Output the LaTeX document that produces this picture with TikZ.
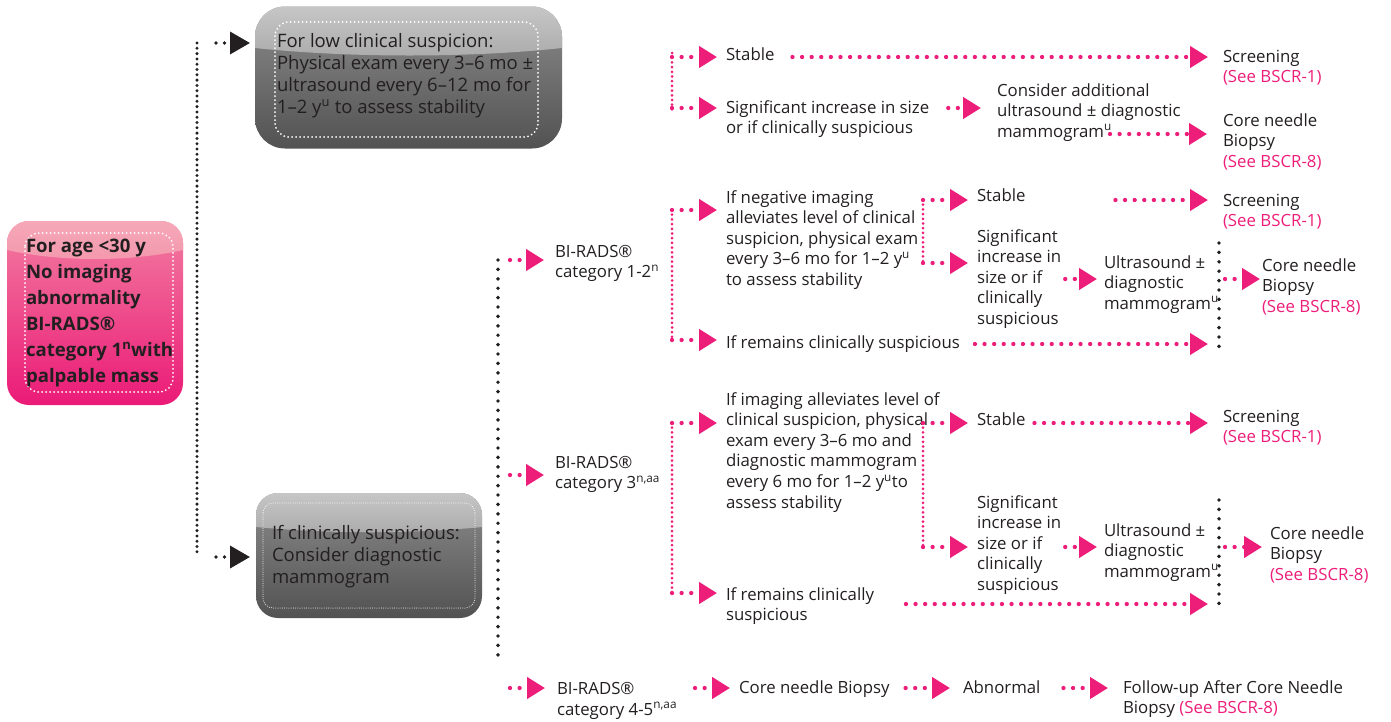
\documentclass[tikz,border=0pt]{standalone}
\usepackage{fontspec}
\setmainfont{Open Sans}
\usetikzlibrary{arrows.meta}

\definecolor{brand}{HTML}{EC1E79}
\definecolor{ink}{HTML}{231F20}
\definecolor{pinkgloss}{HTML}{F5A8B8}
\definecolor{pinkglossb}{HTML}{F497AD}
\definecolor{pinktop}{HTML}{F27DA0}
\definecolor{pinkbot}{HTML}{EB1A77}
\definecolor{graygloss}{HTML}{C6C6C6}
\definecolor{grayglossb}{HTML}{ABABAB}
\definecolor{graytop}{HTML}{8C8C8C}
\definecolor{graybot}{HTML}{525252}

% Multi-line labels are placed by the baseline of their last line.
\tikzset{
  lbl/.style={anchor=base west, inner sep=0pt, outer sep=0pt, align=left, text=ink,
    font=\fontsize{16.8}{20.6}\selectfont},
  boxlbl/.style={lbl, font=\fontsize{18.5}{22}\selectfont},
  agelbl/.style={lbl, font=\bfseries\fontsize{18.6}{26}\selectfont},
  pinkline/.style={draw=brand, line width=4.3pt, line cap=round, dash pattern=on 0pt off 9.6pt},
  pinkarrow/.style={pinkline, -{Triangle[length=18pt,width=21pt]}},
  pinkrail/.style={draw=brand, line width=3pt, line cap=round, dash pattern=on 0pt off 4.7pt},
  blackrail/.style={draw=ink, line width=3.9pt, line cap=round, dash pattern=on 0pt off 9.4pt},
  denserail/.style={draw=ink, line width=3.3pt, line cap=round, dash pattern=on 0pt off 5.3pt},
  blackarrow/.style={draw=ink, line width=3.6pt, line cap=round, dash pattern=on 0pt off 8.5pt,
    -{Triangle[length=20pt,width=22pt]}},
  whitedots/.style={draw=white, line width=2pt, line cap=round, dash pattern=on 0pt off 4pt},
  finedots/.style={draw=white, line width=1pt, line cap=round, dash pattern=on 0pt off 2.2pt},
  glossbox/.style={inner sep=0pt, outer sep=0pt, draw=none},
}
\newcommand{\seeref}[1]{\textcolor{brand}{#1}}
\newcommand{\supover}[1]{\rlap{\textsuperscript{#1}}}

\begin{document}
\begin{tikzpicture}[x=1pt,y=-1pt]
\useasboundingbox (0,0) rectangle (1391,721);

% ---------- entry box ----------
\node[glossbox, rounded corners=22pt, minimum width=176pt, minimum height=184pt,
      top color=pinktop, bottom color=pinkbot] (agebox) at (95,313) {};
\begin{scope}
  \clip[rounded corners=22pt] (agebox.north west) rectangle (agebox.south east);
  \shade[top color=pinkgloss, bottom color=pinkglossb] (agebox.north west) -- (7,250)
     .. controls (60,262) and (130,262) .. (183,250) -- (agebox.north east) -- cycle;
\end{scope}
\draw[whitedots, rounded corners=14pt] (25,233) rectangle (173,392);
\node[agelbl] (agetxt) at (26,382) {For age <30 y\\No imaging\\abnormality\\BI-RADS®\\category 1\supover{n}\hspace{4pt} with\\palpable mass};

% ---------- low suspicion box ----------
\node[glossbox, rounded corners=30pt, minimum width=307pt, minimum height=142pt,
      top color=graytop, bottom color=graybot] (lowbox) at (408.5,77.5) {};
\begin{scope}
  \clip[rounded corners=30pt] (lowbox.north west) rectangle (lowbox.south east);
  \shade[top color=graygloss, bottom color=grayglossb] (lowbox.north west) -- (255,48)
     .. controls (350,58) and (470,58) .. (562,48) -- (lowbox.north east) -- cycle;
\end{scope}
\draw[whitedots, rounded corners=14pt] (275,22) rectangle (538,137);
\node[boxlbl] (lowtxt) at (277,113) {For low clinical suspicion:\\Physical exam every 3–6 mo ±\\ultrasound every 6–12 mo for\\1–2 y\textsuperscript{u} to assess stability};

% ---------- clinically suspicious box ----------
\node[glossbox, rounded corners=22pt, minimum width=226pt, minimum height=125pt,
      top color=graytop, bottom color=graybot] (clinbox) at (369,555.5) {};
\begin{scope}
  \clip[rounded corners=22pt] (clinbox.north west) rectangle (clinbox.south east);
  \shade[top color=graygloss, bottom color=grayglossb] (clinbox.north west) -- (256,527)
     .. controls (330,534) and (410,534) .. (482,527) -- (clinbox.north east) -- cycle;
\end{scope}
\draw[finedots, rounded corners=10pt] (263,503) rectangle (475,608);
\node[boxlbl] (clintxt) at (272,583) {If clinically suspicious:\\Consider diagnostic\\mammogram};

% ---------- first split ----------
\coordinate (r0a) at (197,43);
\coordinate (r0b) at (197,557);
\draw[denserail] (r0a) -- (r0b);
\draw[blackarrow, shorten <=19pt, shorten >=5pt] (r0a) -- (r0a -| lowbox.west);
\draw[blackarrow, shorten <=19pt, shorten >=6pt] (r0b) -- (r0b -| clinbox.west);

% ---------- low suspicion follow-up ----------
\node[lbl] (stable1) at (726,60) {Stable};
\node[lbl] (screen1) at (1223,82.6) {Screening\\\seeref{(See BSCR-1)}};
\node[lbl] (sig1) at (726,133.6) {Significant increase in size\\or if clinically suspicious};
\node[lbl] (consider) at (997,137.2) {Consider additional\\ultrasound ± diagnostic\\mammogram\textsuperscript{u}};
\node[lbl] (core1) at (1223,167.2) {Core needle\\Biopsy\\\seeref{(See BSCR-8)}};

\coordinate (p1a) at (672,57);
\coordinate (p1b) at (672,108);
\coordinate (mam1) at (1110,134);
\draw[pinkrail] (672,53) -- (672,111);
\draw[pinkarrow, shorten >=9pt] (p1a) -- (p1a -| stable1.west);
\draw[pinkarrow, shorten >=9pt] (p1b) -- (p1b -| sig1.west);
\draw[pinkarrow, shorten <=18pt, shorten >=15pt] (stable1.east |- p1a) -- (p1a -| screen1.west);
\draw[pinkarrow, shorten <=19pt, shorten >=16pt] (sig1.east |- p1b) -- (p1b -| consider.west);
\draw[pinkarrow, shorten >=16pt] (mam1) -- (mam1 -| core1.west);

% ---------- second split (imaging categories) ----------
\coordinate (r1a) at (498,260);
\coordinate (r1m) at (498,475);
\coordinate (r1b) at (498,658);
\draw[blackrail] (r1a) -- (r1b);

\node[lbl] (cat12) at (555,277.6) {BI-RADS®\\category 1-2\textsuperscript{n}};
\node[lbl] (cat3) at (555,488.6) {BI-RADS®\\category 3\textsuperscript{n,aa}};
\draw[pinkarrow, shorten <=12pt, shorten >=11pt] (r1a) -- (r1a -| cat12.west);
\draw[pinkarrow, shorten <=12pt, shorten >=11pt] (r1m) -- (r1m -| cat3.west);

% ---------- category 1-2 ----------
\node[lbl] (neg) at (726,285.4) {If negative imaging\\alleviates level of clinical\\suspicion, physical exam\\every 3–6 mo for 1–2 y\textsuperscript{u}\\to assess stability};
\node[lbl] (remains1) at (726,348) {If remains clinically suspicious};
\coordinate (p2a) at (672,210);
\coordinate (p2b) at (672,340);
\draw[pinkrail] (p2a) -- (p2b);
\draw[pinkarrow, shorten >=9pt] (p2a) -- (p2a -| neg.west);
\draw[pinkarrow, shorten >=9pt] (p2b) -- (p2b -| remains1.west);

\node[lbl] (stable2) at (977,201) {Stable};
\node[lbl] (screen2) at (1223,226.6) {Screening\\\seeref{(See BSCR-1)}};
\node[lbl] (sig2) at (977,324.4) {Significant\\increase in\\size or if\\clinically\\suspicious};
\node[lbl] (us2) at (1104,309.2) {Ultrasound ±\\diagnostic\\mammogram\textsuperscript{u}};
\node[lbl] (core2) at (1262,312.2) {Core needle\\Biopsy\\\seeref{(See BSCR-8)}};

\coordinate (q1a) at (923,200);
\coordinate (q1b) at (923,263);
\coordinate (u2) at (0,279);
\coordinate (u3) at (0,344);
\coordinate (b3a) at (1219,243);
\coordinate (b3b) at (1219,348);
\draw[pinkrail] (q1a) -- (q1b);
\draw[pinkarrow, shorten >=9pt] (q1a) -- (q1a -| stable2.west);
\draw[pinkarrow, shorten >=9pt] (q1b) -- (q1b -| sig2.west);
\draw[pinkarrow, shorten <=90pt, shorten >=15pt] (stable2.east |- q1a) -- (q1a -| screen2.west);
\draw[pinkarrow, shorten <=4pt, shorten >=7pt] (sig2.east |- u2) -- (u2 -| us2.west);
\draw[blackrail] (b3a) -- (b3b);
\draw[pinkarrow, shorten <=6pt, shorten >=2pt] (u2 -| b3a) -- (u2 -| core2.west);
\draw[pinkarrow, shorten <=15pt, shorten >=11pt] (remains1.east |- u3) -- (u3 -| b3a);

% ---------- category 3 ----------
\node[lbl] (allev) at (726,508) {If imaging alleviates level of\\clinical suspicion, physical\\exam every 3–6 mo and\\diagnostic mammogram\\every 6 mo for 1–2 y\textsuperscript{u}to\\assess stability};
\node[lbl] (remains2) at (726,620.6) {If remains clinically\\suspicious};
\coordinate (p3a) at (672,423);
\coordinate (p3b) at (672,593);
\draw[pinkrail] (p3a) -- (p3b);
\draw[pinkarrow, shorten >=9pt] (p3a) -- (p3a -| allev.west);
\draw[pinkarrow, shorten >=9pt] (p3b) -- (p3b -| remains2.west);

\node[lbl] (stable3) at (977,425) {Stable};
\node[lbl] (screen3) at (1223,442.6) {Screening\\\seeref{(See BSCR-1)}};
\node[lbl] (sig3) at (977,590.4) {Significant\\increase in\\size or if\\clinically\\suspicious};
\node[lbl] (us3) at (1104,577.2) {Ultrasound ±\\diagnostic\\mammogram\textsuperscript{u}};
\node[lbl] (core3) at (1270,580.2) {Core needle\\Biopsy\\\seeref{(See BSCR-8)}};

\coordinate (q2a) at (923,423);
\coordinate (q2b) at (923,547);
\coordinate (u4) at (0,604);
\coordinate (b4a) at (1219,500);
\coordinate (b4b) at (1219,607);
\draw[pinkrail] (q2a) -- (q2b);
\draw[pinkarrow, shorten >=9pt] (q2a) -- (q2a -| stable3.west);
\draw[pinkarrow, shorten >=9pt] (q2b) -- (q2b -| sig3.west);
\draw[pinkarrow, shorten <=9pt, shorten >=15pt] (stable3.east |- q2a) -- (q2a -| screen3.west);
\draw[pinkarrow, shorten <=4pt, shorten >=7pt] (sig3.east |- q2b) -- (q2b -| us3.west);
\draw[blackrail] (b4a) -- (b4b);
\draw[pinkarrow, shorten <=6pt, shorten >=8pt] (q2b -| b4a) -- (q2b -| core3.west);
\draw[pinkarrow, shorten <=32pt, shorten >=11pt] (remains2.east |- u4) -- (u4 -| b4a);

% ---------- category 4-5 ----------
\coordinate (s45) at (510,688);
\node[lbl] (cat45) at (557,715) {BI-RADS®\\category 4-5\textsuperscript{n,aa}};
\node[lbl] (corebx) at (739,693) {Core needle Biopsy};
\node[lbl] (abnormal) at (963,693) {Abnormal};
\node[lbl] (followup) at (1123,713.6) {Follow-up After Core Needle\\Biopsy \seeref{(See BSCR-8)}};
\draw[pinkarrow, shorten >=12pt] (s45) -- (s45 -| cat45.west);
\draw[pinkarrow, shorten <=18pt, shorten >=9pt] (cat45.east |- s45) -- (s45 -| corebx.west);
\draw[pinkarrow, shorten <=16pt, shorten >=13pt] (corebx.east |- s45) -- (s45 -| abnormal.west);
\draw[pinkarrow, shorten <=23pt, shorten >=15pt] (abnormal.east |- s45) -- (s45 -| followup.west);

\end{tikzpicture}
\end{document}
